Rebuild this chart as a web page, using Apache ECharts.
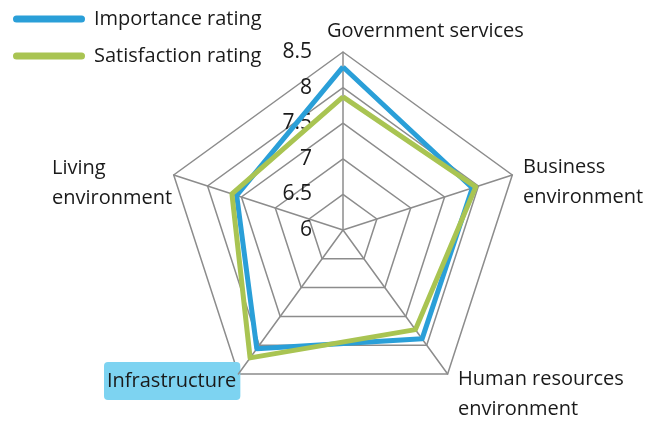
<!DOCTYPE html>
<html>
<head>
<meta charset="utf-8">
<script src="https://cdn.jsdelivr.net/npm/echarts@6/dist/echarts.min.js"></script>
<style>
  html, body { margin: 0; padding: 0; background: #fff; }
  #chart { width: 648px; height: 422px; }
</style>
</head>
<body>
<div id="chart"></div>
<script>
// indicators go counter-clockwise from the top
var indicators = ['Government services', 'Living environment', 'Infrastructure', 'Human resources environment', 'Business environment'];
var importance = [8.29, 7.57, 8.06, 7.89, 7.91];
var satisfaction = [7.87, 7.64, 8.22, 7.73, 7.96];
var seriesNames = ['Importance rating', 'Satisfaction rating'];
var axisMin = 6, axisMax = 8.5;

var font = '"Open Sans", sans-serif';
var txt = '#1a1a1a';
var grid = '#8c8c8c';

var chart = echarts.init(document.getElementById('chart'));

var indicatorList = indicators.map(function (n, i) {
  var ind = { name: n, min: axisMin, max: axisMax };
  if (i === 0) {
    // tick values only along the top spoke, on its left side
    ind.axisLabel = { show: true, margin: 31, align: 'right', verticalAlign: 'middle',
      padding: [5, 0, 0, 0],
      color: txt, fontSize: 21, fontFamily: font, formatter: function (v) { return String(v); } };
  }
  return ind;
});

var option = {
  animation: false,
  textStyle: { fontFamily: font },
  legend: {
    orient: 'vertical',
    left: 8,
    top: 4,
    itemWidth: 72,
    itemHeight: 7,
    itemGap: 17,
    icon: 'path://M3.5,0 H68.5 A3.5,3.5 0 0 1 68.5,7 H3.5 A3.5,3.5 0 0 1 3.5,0 Z',
    textStyle: { fontSize: 20, color: txt, fontFamily: font, padding: [0, 0, 0, 4] },
    data: seriesNames
  },
  radar: {
    center: [343, 230],
    radius: 178,
    shape: 'polygon',
    splitNumber: 5,
    indicator: indicatorList,
    axisName: { show: false },
    splitLine: { lineStyle: { color: grid, width: 1.5 } },
    splitArea: { show: false },
    axisLine: { lineStyle: { color: grid, width: 1.5 } },
    axisTick: { show: false },
    axisLabel: { show: false }
  },
  series: [{
    type: 'radar',
    symbol: 'none',
    data: [
      { name: seriesNames[0], value: importance,
        lineStyle: { color: '#2a9fd8', width: 5 }, itemStyle: { color: '#2a9fd8' } },
      { name: seriesNames[1], value: satisfaction,
        lineStyle: { color: '#a9c452', width: 5 }, itemStyle: { color: '#a9c452' } }
    ]
  }]
};

chart.setOption(option);

// indicator names, placed as in the original layout
var g = [];
var nameStyle = { fill: txt, font: '20px ' + font, lineHeight: 30, verticalAlign: 'middle' };
function label(text, x, y, extra) {
  g.push({ type: 'text', x: x, y: y, style: Object.assign({ text: text }, nameStyle, extra || {}) });
}
label('Government services', 327, 31);
label('Business\nenvironment', 523, 182);
label('Human resources\nenvironment', 458, 394);
label('Living\nenvironment', 52, 183);
label('Infrastructure', 104, 381, {
  backgroundColor: '#7dd3f1', borderRadius: 4, padding: [4, 4, 4, 3]
});
chart.setOption({ graphic: g });
</script>
</body>
</html>
